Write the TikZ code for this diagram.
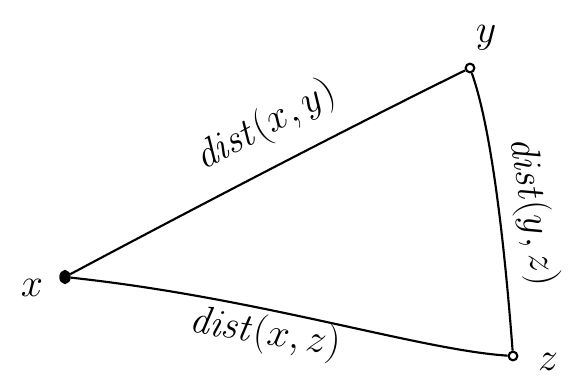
\documentclass[tikz,border=0pt]{standalone}
\usepackage{amsmath}
\usetikzlibrary{shapes.geometric}

\tikzset{every picture/.style={line width=1.6pt}}
\tikzset{
  ptfill/.style={draw,fill=black,ellipse,inner sep=0pt,minimum width=7pt,minimum height=9pt},
  ptopen/.style={draw,circle,inner sep=0pt,minimum size=6.5pt,line width=1.6pt},
  hand/.style={inner sep=0.75pt,font=\Huge,scale=1.2}
}

\begin{document}
\begin{tikzpicture}[x=0.75pt,y=0.75pt,yscale=-1,xscale=1]
\useasboundingbox (0,0) rectangle (574,389);

% Points
\node [ptfill] (px) at (65,277) {};
\node [ptopen] (py) at (470,68) {};
\node [ptopen] (pz) at (513,356) {};

%Curve Lines
\draw (px) .. controls (200,205) and (360,122) .. (py);
%Curve Lines
\draw (py) .. controls (492,130) and (505,250) .. (pz);
%Curve Lines
\draw (px) .. controls (260,298) and (420,350) .. (pz);

% Text Node
\node [hand] (lx) at (32,288) {$x$};
% Text Node
\node [hand] (ly) at (486,38) {$y$};
% Text Node
\node [hand] (lz) at (548,362) {$z$};
% Text Node
\node [hand,rotate=28] (lxy) at (266,126) {$\mathit{dist}(x,y)$};
% Text Node
\node [hand,rotate=-81] (lyz) at (532,212) {$\mathit{dist}(y,z)$};
% Text Node
\node [hand,rotate=-9] (lxz) at (265,334) {$\mathit{dist}(x,z)$};

\end{tikzpicture}
\end{document}
